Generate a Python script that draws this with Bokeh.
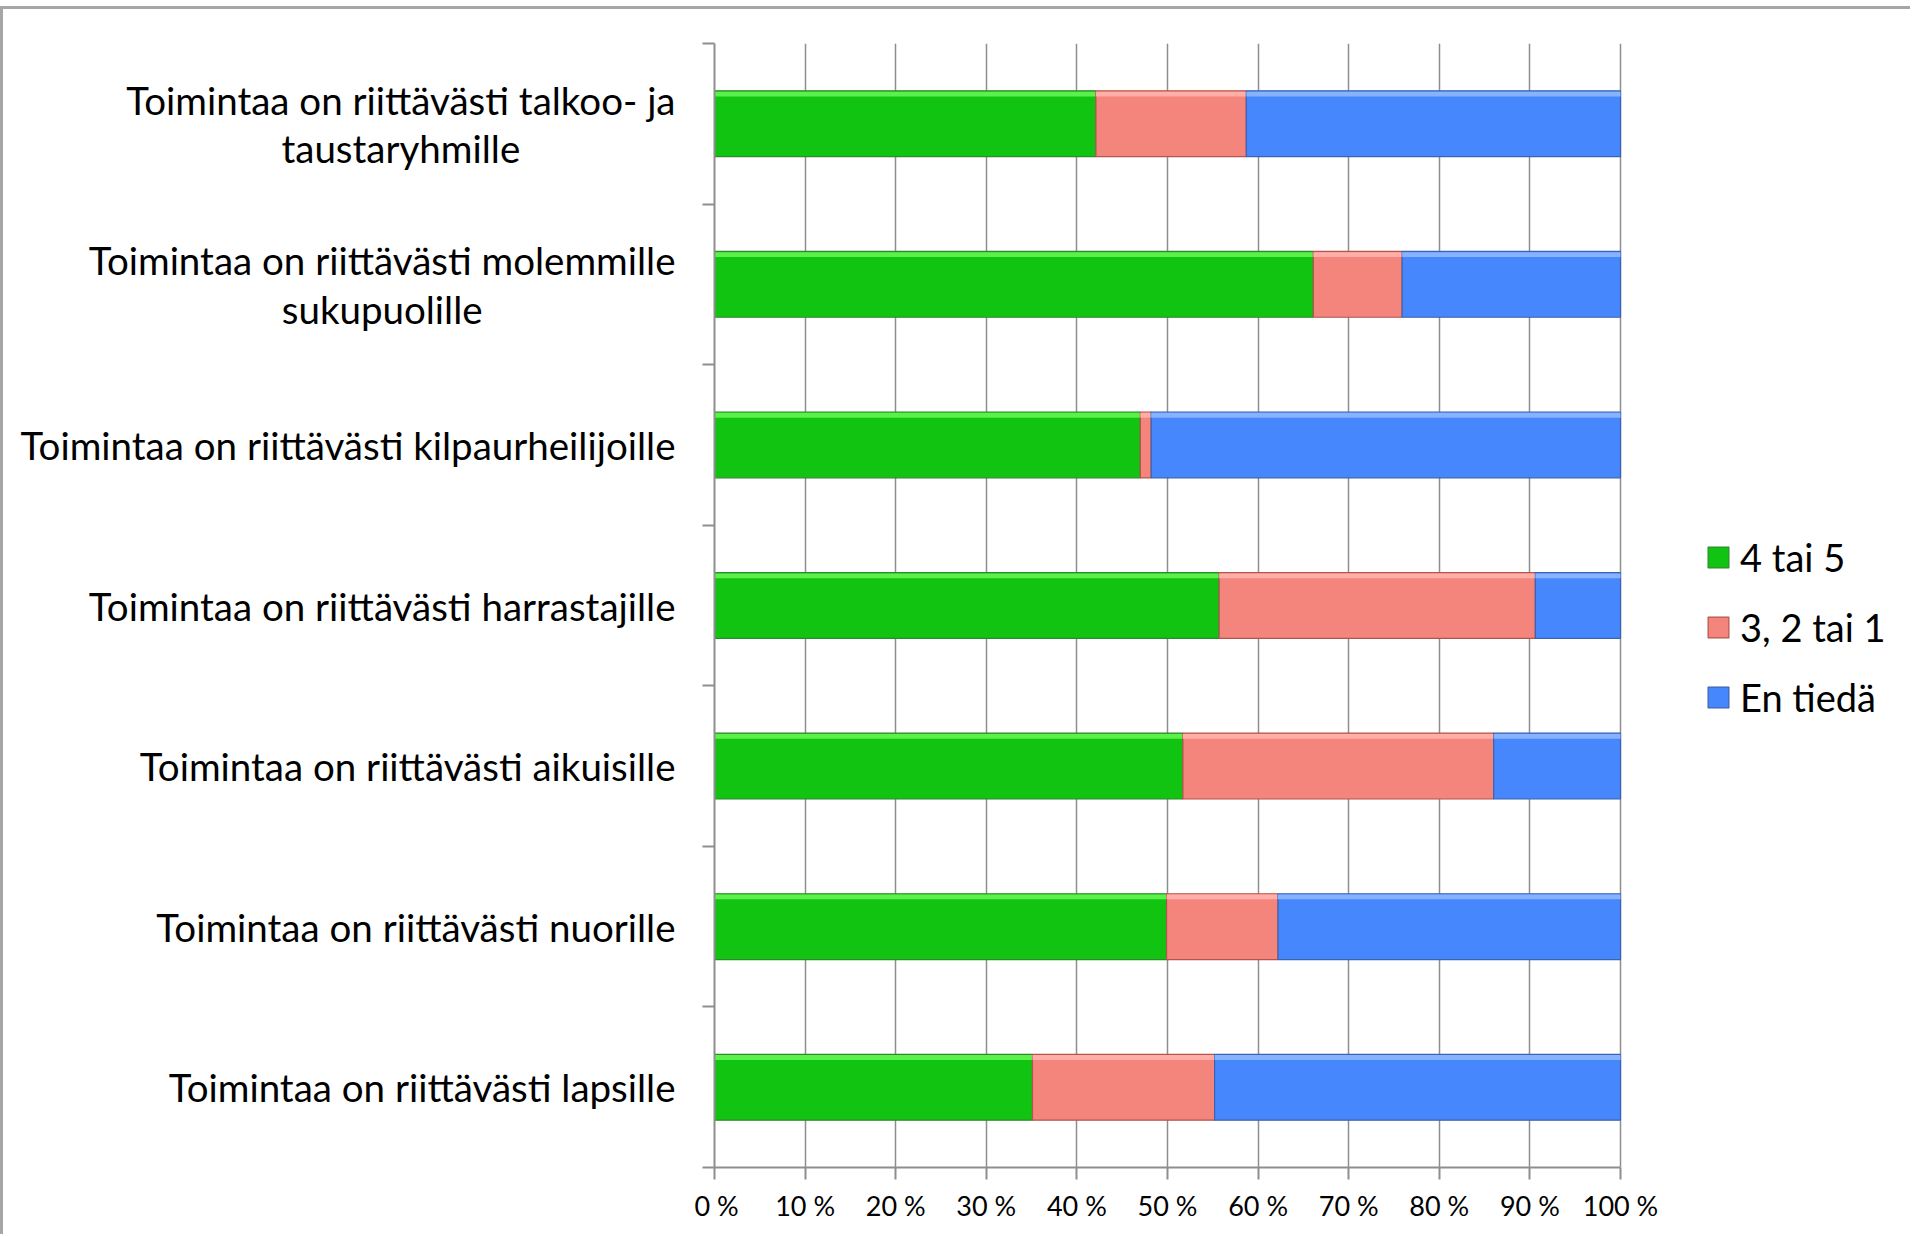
from bokeh.plotting import figure
from bokeh.layouts import row
from bokeh.models import (ColumnDataSource, Range1d, FixedTicker, PrintfTickFormatter,
                          Legend, LegendItem, Label)
from bokeh.transform import dodge
from bokeh.embed import file_html
from bokeh.resources import INLINE

# ---- data (top to bottom as in chart) ----
categories = [
    "Toimintaa on riittävästi talkoo- ja\ntaustaryhmille",
    "Toimintaa on riittävästi molemmille\nsukupuolille",
    "Toimintaa on riittävästi kilpaurheilijoille",
    "Toimintaa on riittävästi harrastajille",
    "Toimintaa on riittävästi aikuisille",
    "Toimintaa on riittävästi nuorille",
    "Toimintaa on riittävästi lapsille",
]
series_names = ["4 tai 5", "3, 2 tai 1", "En tiedä"]
green = [42.1, 66.1, 47.0, 55.7, 51.7, 49.9, 35.1]
pink = [16.6, 9.8, 1.2, 34.9, 34.3, 12.3, 20.1]
blue = [41.3, 24.1, 51.8, 9.4, 14.0, 37.8, 44.8]
x_ticks = [0, 10, 20, 30, 40, 50, 60, 70, 80, 90, 100]

n = len(categories)
ypos = [n - i - 0.5 for i in range(n)]
g_end = [g for g in green]
p_end = [g + p for g, p in zip(green, pink)]
b_end = [g + p + b for g, p, b in zip(green, pink, blue)]

src = ColumnDataSource(dict(
    y=ypos,
    g0=[0] * n, g1=g_end,
    p0=g_end, p1=p_end,
    b0=p_end, b1=b_end,
))

FONT = "Lato"
GRID = "#8e8e8e"

TOTAL_W, Hh = 1907, 1225
MB_TOP, MB_BOTTOM = 34, 67
LEFT_W = 691          # width of the label panel
MAIN_MB_LEFT = 20
MAIN_W = TOTAL_W - LEFT_W
DATA_PX = 906         # pixels spanned by 0..100 %
frame_w = MAIN_W - MAIN_MB_LEFT
x_end = x_ticks[-1] * frame_w / DATA_PX   # frame extends right to host the legend

y_range = Range1d(0, n)

# ---------------- main chart ----------------
p = figure(width=MAIN_W, height=Hh, output_backend="svg", toolbar_location=None,
           x_range=Range1d(0, x_end), y_range=y_range,
           min_border_left=MAIN_MB_LEFT, min_border_right=0, min_border_top=MB_TOP,
           min_border_bottom=MB_BOTTOM)
p.outline_line_color = None
p.background_fill_color = "white"
p.border_fill_color = "white"

p.xgrid.ticker = FixedTicker(ticks=x_ticks)
p.xgrid.grid_line_color = GRID
p.xgrid.grid_line_width = 1.5
p.ygrid.visible = False

xa = p.xaxis[0]
xa.ticker = FixedTicker(ticks=x_ticks)
xa.bounds = (x_ticks[0], x_ticks[-1])
xa.formatter = PrintfTickFormatter(format="%d %%")
xa.axis_line_color = GRID
xa.axis_line_width = 2
xa.major_tick_line_color = GRID
xa.major_tick_line_width = 2
xa.major_tick_out = 12
xa.major_tick_in = 0
xa.minor_tick_line_color = None
xa.major_label_standoff = 9
xa.major_label_text_font = FONT
xa.major_label_text_font_size = "27px"
xa.major_label_text_color = "black"

# y axis: tick marks at band boundaries, labels drawn in the label panel
ya = p.yaxis[0]
ya.ticker = FixedTicker(ticks=list(range(n + 1)))
ya.major_label_text_font_size = "0px"
ya.major_label_text_alpha = 0
ya.major_label_standoff = 0
ya.major_tick_line_color = GRID
ya.major_tick_line_width = 2
ya.major_tick_out = 12
ya.major_tick_in = 0
ya.minor_tick_line_color = None
ya.axis_line_color = GRID
ya.axis_line_width = 2

H = 0.41
fills = ["#12C412", "#F4857D", "#4687FD"]
lines = ["#2b8a2b", "#b4544d", "#3b63b0"]
highs = ["#5CF04C", "#FFAEA8", "#86B2FF"]
lefts = ["g0", "p0", "b0"]
rights = ["g1", "p1", "b1"]

renderers = []
for k in range(3):
    r = p.hbar(y="y", left=lefts[k], right=rights[k], height=H, source=src,
               fill_color=fills[k], line_color=lines[k], line_width=1.2)
    renderers.append(r)
    p.hbar(y=dodge("y", H / 2 - 0.02, range=y_range), left=lefts[k], right=rights[k],
           height=0.03, source=src, fill_color=highs[k], line_color=None)

legend = Legend(items=[LegendItem(label=series_names[k], renderers=[renderers[k]]) for k in range(3)],
                location=(991, 447), orientation="vertical")
legend.padding = 0
legend.margin = 0
legend.border_line_color = None
legend.background_fill_alpha = 0
legend.glyph_width = 26
legend.glyph_height = 26
legend.label_standoff = 9
legend.spacing = 24
legend.label_text_font = FONT
legend.label_text_font_size = "38px"
legend.label_text_color = "black"
p.add_layout(legend, "center")

# ---------------- category label panel ----------------
pl = figure(width=LEFT_W, height=Hh, output_backend="svg", toolbar_location=None,
            x_range=Range1d(0, 1), y_range=y_range,
            x_axis_location=None, y_axis_location=None,
            min_border_left=0, min_border_right=0, min_border_top=MB_TOP,
            min_border_bottom=MB_BOTTOM)
pl.outline_line_color = None
pl.background_fill_color = "white"
pl.border_fill_color = "white"
for g in pl.grid:
    g.visible = False

for yv, cat in zip(ypos, categories):
    pl.add_layout(Label(x=1, y=yv, x_offset=-19, text=cat,
                        anchor="center_right", text_align="center", text_baseline="middle",
                        text_font=FONT, text_font_size="38.5px", text_color="black",
                        text_line_height=1.05))

layout = row(pl, p)
layout.styles = {"border-top": "3px solid #a6a6a6", "border-left": "3px solid #a6a6a6",
                 "margin-top": "6px"}

open("out.html", "w").write(file_html(layout, INLINE))
